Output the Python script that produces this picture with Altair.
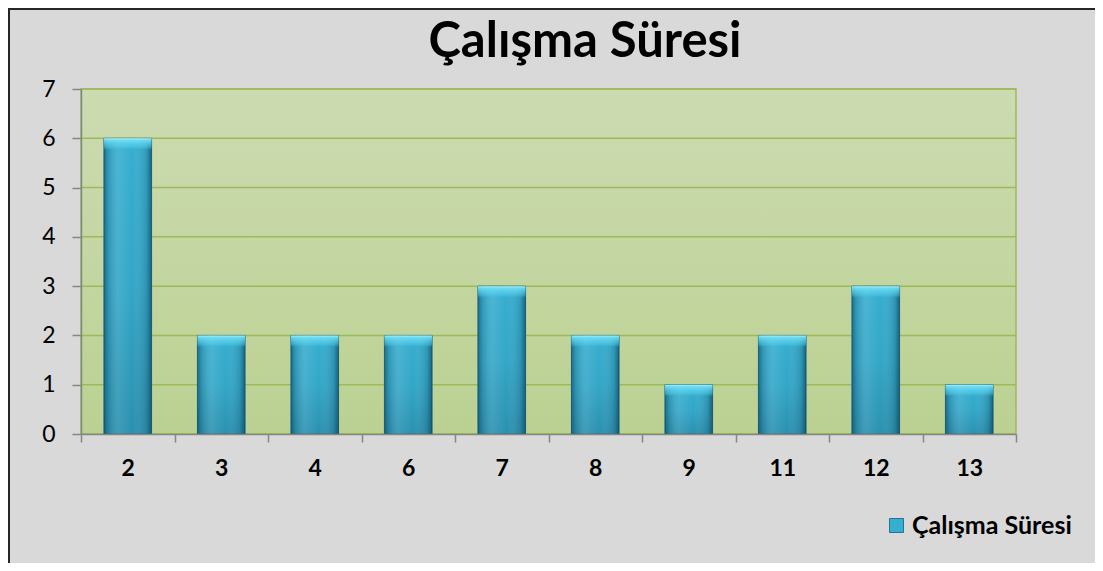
import altair as alt
import pandas as pd

categories = ["2", "3", "4", "6", "7", "8", "9", "11", "12", "13"]
values = [6, 2, 2, 2, 3, 2, 1, 2, 3, 1]
series_name = "Çalışma Süresi"
title_text = "Çalışma Süresi"
y_ticks = [0, 1, 2, 3, 4, 5, 6, 7]

df = pd.DataFrame({"cat": categories, "v": values, "series": [series_name] * len(values)})
grid_df = pd.DataFrame({"tick": y_ticks})

FONT = "Lato"
PW, PH = 935, 345
PAD_L, PAD_T, PAD_R, PAD_B = 73, 81, 79, 129
BARW = alt.RelativeBandSize(0.51)

xaxis = alt.Axis(title=None, labelAngle=0, labelFont=FONT, labelFontSize=23,
                 labelFontWeight="bold", labelColor="#000000",
                 tickBand="extent", tickSize=8, tickColor="#868686", tickWidth=1.5,
                 domainColor="#868686", domainWidth=1.5, labelPadding=15,
                 grid=False, zindex=1)
xenc = alt.X("cat:N", sort=categories,
             scale=alt.Scale(paddingInner=0, paddingOuter=0), axis=xaxis)
yscale = alt.Scale(domain=[0, 7], nice=False)
yaxis = alt.Axis(title=None, values=y_ticks, format="d", labelFont=FONT,
                 labelFontSize=23, labelColor="#000000", tickSize=9,
                 tickColor="#868686", tickWidth=1.5, domainColor="#868686",
                 domainWidth=1.5, labelPadding=17, grid=False, zindex=1)
yenc = alt.Y("v:Q", scale=yscale, axis=yaxis)

bg = alt.Chart(pd.DataFrame({"a": [0]})).mark_rect(
    stroke="#9bbb59", strokeWidth=1.5,
    fill={"gradient": "linear", "x1": 0, "x2": 0, "y1": 0, "y2": 1,
          "stops": [{"offset": 0, "color": "#cddbb1"}, {"offset": 1, "color": "#bbd192"}]}
).encode(x=alt.value(0), x2=alt.value(PW), y=alt.value(0), y2=alt.value(PH))

grid = alt.Chart(grid_df).mark_rule(color="#9bbb59", strokeWidth=1.5).encode(
    y=alt.Y("tick:Q", scale=yscale, axis=yaxis))

base = alt.Chart(df)

bars = base.mark_bar(stroke="#25748f", strokeWidth=1, width=BARW).encode(
    x=xenc, y=yenc,
    color=alt.Color("series:N", scale=alt.Scale(domain=[series_name], range=["#36aed0"]),
                    legend=alt.Legend(title=None, orient="none", legendX=803, legendY=424,
                                      symbolType="square", symbolSize=196,
                                      symbolStrokeColor="#25748f", symbolStrokeWidth=1,
                                      labelFont=FONT, labelFontSize=25, labelFontWeight="bold",
                                      labelColor="#000000", labelOffset=3, labelLimit=400)),
)

hshade = base.mark_bar(width=BARW, fill={
    "gradient": "linear", "x1": 0, "x2": 1, "y1": 0, "y2": 0,
    "stops": [
        {"offset": 0, "color": "rgba(10,55,75,0.55)"},
        {"offset": 0.08, "color": "rgba(10,55,75,0.2)"},
        {"offset": 0.3, "color": "rgba(255,255,255,0.10)"},
        {"offset": 0.6, "color": "rgba(255,255,255,0.0)"},
        {"offset": 0.9, "color": "rgba(10,50,70,0.18)"},
        {"offset": 1, "color": "rgba(10,50,70,0.6)"},
    ]}).encode(x=xenc, y=yenc)

vshade = base.mark_bar(width=BARW, fill={
    "gradient": "linear", "x1": 0, "x2": 0, "y1": 0, "y2": 1,
    "stops": [
        {"offset": 0, "color": "rgba(0,40,60,0.0)"},
        {"offset": 0.5, "color": "rgba(0,40,60,0.06)"},
        {"offset": 1, "color": "rgba(0,40,60,0.22)"},
    ]}).encode(x=xenc, y=yenc)

cap = base.transform_calculate(lo="datum.v - 0.24").mark_bar(width=BARW, fill={
    "gradient": "linear", "x1": 0, "x2": 0, "y1": 0, "y2": 1,
    "stops": [
        {"offset": 0, "color": "rgba(190,248,255,0.95)"},
        {"offset": 0.15, "color": "rgba(115,225,247,0.9)"},
        {"offset": 0.75, "color": "rgba(85,210,238,0.45)"},
        {"offset": 1, "color": "rgba(60,185,220,0.0)"},
    ]}).encode(x=xenc, y=yenc, y2="lo:Q")

title = alt.Chart(pd.DataFrame({"t": [title_text]})).mark_text(
    font=FONT, fontSize=49, fontWeight="bold", color="#000000",
    align="center", baseline="alphabetic").encode(
    text="t:N", x=alt.value(504), y=alt.value(-32))

border_top = alt.Chart(pd.DataFrame({"a": [0]})).mark_rule(color="#262626", strokeWidth=2).encode(
    x=alt.value(-PAD_L), x2=alt.value(PW + PAD_R), y=alt.value(-PAD_T + 1))
border_left = alt.Chart(pd.DataFrame({"a": [0]})).mark_rule(color="#262626", strokeWidth=2).encode(
    x=alt.value(-PAD_L + 1), y=alt.value(-PAD_T), y2=alt.value(PH + PAD_B))

chart = alt.layer(bg, grid, bars, vshade, hshade, cap, title, border_top, border_left).properties(
    width=PW, height=PH,
    autosize=alt.AutoSizeParams(type="none"),
    padding={"left": PAD_L, "top": PAD_T, "right": PAD_R, "bottom": PAD_B},
    background="#d9d9d9",
).configure_view(stroke=None)

chart.save("out.html", embed_options={"renderer": "svg", "actions": False})
